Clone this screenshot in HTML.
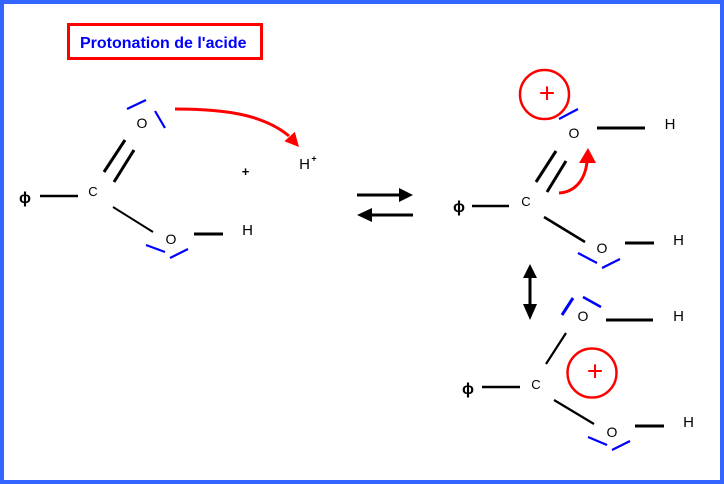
<!DOCTYPE html>
<html><head><meta charset="utf-8">
<style>
html,body{margin:0;padding:0;background:#fff;}
svg{display:block;}
text{font-family:"Liberation Sans","DejaVu Sans",sans-serif;}
</style></head>
<body>
<svg width="724" height="484" viewBox="0 0 724 484" xmlns="http://www.w3.org/2000/svg">
<rect x="0" y="0" width="724" height="484" fill="#fff"/>
<!-- border -->
<rect x="2" y="2" width="720" height="480" fill="none" stroke="#3366ff" stroke-width="4"/>

<!-- title -->
<rect x="68.5" y="24.5" width="193" height="34" fill="none" stroke="#ff0000" stroke-width="3"/>
<text x="80" y="48" font-size="16" font-weight="bold" fill="#0000ff">Protonation de l'acide</text>

<!-- ===== Left molecule ===== -->
<g stroke="#000" stroke-linecap="butt">
<line x1="40" y1="196" x2="78" y2="196" stroke-width="2.5"/>
<line x1="104" y1="172" x2="125" y2="140" stroke-width="3"/>
<line x1="114" y1="182" x2="134" y2="150" stroke-width="3"/>
<line x1="113" y1="207" x2="153" y2="232" stroke-width="2"/>
<line x1="194" y1="234" x2="223" y2="234" stroke-width="3"/>
</g>
<g stroke="#0000ff" stroke-width="2.2">
<line x1="127" y1="109" x2="146" y2="100"/>
<line x1="155" y1="111" x2="165" y2="128"/>
<line x1="146" y1="245" x2="165" y2="252"/>
<line x1="170" y1="258" x2="188" y2="249"/>
</g>
<text x="25" y="203" font-size="16" font-weight="bold" text-anchor="middle">ϕ</text>
<text x="93" y="196" font-size="13" text-anchor="middle">C</text>
<text x="142" y="128" font-size="14" text-anchor="middle">O</text>
<text x="171" y="244" font-size="14" text-anchor="middle">O</text>
<text x="247.5" y="235" font-size="15" text-anchor="middle">H</text>
<text x="245.5" y="171.5" font-size="13" font-weight="bold" text-anchor="middle" dominant-baseline="central">+</text>
<text x="304.5" y="169" font-size="15" text-anchor="middle">H</text>
<text x="314" y="158.5" font-size="9" font-weight="bold" text-anchor="middle" dominant-baseline="central">+</text>
<!-- red arrow left -->
<path d="M175,109 C230,109 265,116 289,136" fill="none" stroke="#ff0000" stroke-width="3"/>
<polygon points="299,147 294.8,131.9 284.4,141.3" fill="#ff0000"/>

<!-- equilibrium arrows -->
<line x1="357" y1="195" x2="401" y2="195" stroke="#000" stroke-width="3"/>
<polygon points="413,195 399,188 399,202" fill="#000"/>
<line x1="370" y1="215" x2="413" y2="215" stroke="#000" stroke-width="3"/>
<polygon points="357,215 372,208 372,222" fill="#000"/>

<!-- ===== Right top molecule ===== -->
<g stroke="#000">
<line x1="472" y1="206" x2="509" y2="206" stroke-width="2.5"/>
<line x1="536" y1="182" x2="556" y2="151" stroke-width="3"/>
<line x1="547" y1="192" x2="566" y2="161" stroke-width="3"/>
<line x1="544" y1="217" x2="585" y2="242" stroke-width="2.5"/>
<line x1="597" y1="128" x2="645" y2="128" stroke-width="3"/>
<line x1="625" y1="243" x2="654" y2="243" stroke-width="3"/>
</g>
<g stroke="#0000ff" stroke-width="2.2">
<line x1="559" y1="119" x2="578" y2="109"/>
<line x1="578" y1="253" x2="597" y2="263"/>
<line x1="602" y1="268" x2="620" y2="259"/>
</g>
<circle cx="544.5" cy="94.5" r="24.5" fill="none" stroke="#ff0000" stroke-width="2.5"/>
<text x="547" y="93" font-size="28" fill="#ff0000" text-anchor="middle" dominant-baseline="central">+</text>
<text x="459" y="212" font-size="16" font-weight="bold" text-anchor="middle">ϕ</text>
<text x="526" y="206" font-size="13" text-anchor="middle">C</text>
<text x="574" y="138" font-size="14" text-anchor="middle">O</text>
<text x="670" y="129" font-size="15" text-anchor="middle">H</text>
<text x="602" y="253" font-size="14" text-anchor="middle">O</text>
<text x="678.5" y="245" font-size="15" text-anchor="middle">H</text>
<!-- red small arrow -->
<path d="M559,193 C575,192 585,180 587,162" fill="none" stroke="#ff0000" stroke-width="3"/>
<polygon points="588,148 579,163 596,163" fill="#ff0000"/>

<!-- vertical resonance arrow -->
<line x1="530" y1="276" x2="530" y2="306" stroke="#000" stroke-width="3"/>
<polygon points="530,264 523,278 537,278" fill="#000"/>
<polygon points="530,320 523,304 537,304" fill="#000"/>

<!-- ===== Bottom molecule ===== -->
<g stroke="#000">
<line x1="482" y1="387" x2="520" y2="387" stroke-width="2.5"/>
<line x1="546" y1="364" x2="566" y2="333" stroke-width="2.2"/>
<line x1="554" y1="400" x2="594" y2="424" stroke-width="2.2"/>
<line x1="606" y1="320" x2="653" y2="320" stroke-width="3"/>
<line x1="635" y1="426" x2="664" y2="426" stroke-width="3"/>
</g>
<g stroke="#0000ff">
<line x1="562" y1="315" x2="573" y2="298" stroke-width="3"/>
<line x1="583" y1="297" x2="601" y2="307" stroke-width="2.5"/>
<line x1="588" y1="437" x2="607" y2="445" stroke-width="2.2"/>
<line x1="612" y1="450" x2="630" y2="441" stroke-width="2.2"/>
</g>
<circle cx="592" cy="373" r="24.5" fill="none" stroke="#ff0000" stroke-width="2.5"/>
<text x="595" y="371" font-size="28" fill="#ff0000" text-anchor="middle" dominant-baseline="central">+</text>
<text x="468" y="394" font-size="16" font-weight="bold" text-anchor="middle">ϕ</text>
<text x="536" y="389" font-size="13" text-anchor="middle">C</text>
<text x="583" y="321" font-size="14" text-anchor="middle">O</text>
<text x="678.5" y="321" font-size="15" text-anchor="middle">H</text>
<text x="612" y="437" font-size="14" text-anchor="middle">O</text>
<text x="688.5" y="427" font-size="15" text-anchor="middle">H</text>
</svg>
</body></html>
